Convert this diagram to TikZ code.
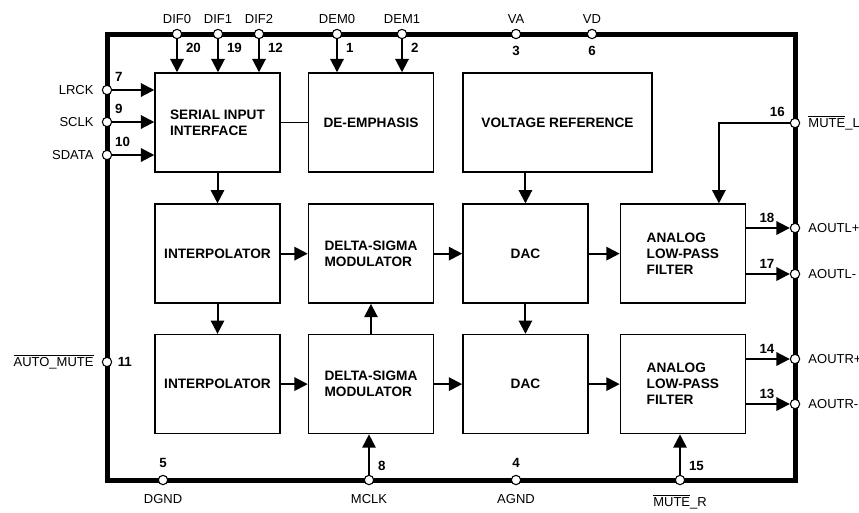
\documentclass[tikz,border=0pt]{standalone}
\usepackage{fontspec}
\setmainfont{Liberation Sans}
\usetikzlibrary{positioning,arrows.meta}
\tikzset{
  blk/.style={rectangle,draw=black,line width=1.1pt,align=left,minimum width=93.75pt,minimum height=74.25pt,inner sep=0pt,font=\bfseries\fontsize{10.25}{12}\selectfont},
  pin/.style={circle,draw=black,fill=white,line width=0.8pt,minimum size=7pt,inner sep=0pt},
  pinlbl/.style={font=\fontsize{9.75}{11.5}\selectfont,inner sep=1pt},
  pinnum/.style={font=\bfseries\fontsize{10}{11.5}\selectfont,inner sep=1pt},
  sig/.style={-{Triangle[length=10pt,width=10pt]},line width=1.5pt},
  wire/.style={line width=1pt},
  frame/.style={line width=3.75pt}
}
\newcommand{\ovl}[1]{$\overline{\mbox{#1}}$}

\begin{document}
\begin{tikzpicture}[x=0.75pt,y=-0.75pt]
  \useasboundingbox (0,0) rectangle (859,512);
  \draw[frame] (107,34) rectangle (795,480);

  % blocks
  \node[blk] at (217.5,122.5) (sii) {SERIAL INPUT\\INTERFACE};
  \node[blk,right=20.25pt of sii] (dem) {DE-EMPHASIS};
  \node[blk,right=21pt of dem,minimum width=141.75pt] (vref) {VOLTAGE REFERENCE};
  \node[blk,below=23pt of sii] (ip1) {INTERPOLATOR};
  \node[blk,below=22.5pt of ip1] (ip2) {INTERPOLATOR};
  \node[blk,below=23pt of dem] (ds1) {DELTA-SIGMA\\MODULATOR};
  \node[blk,below=22.5pt of ds1] (ds2) {DELTA-SIGMA\\MODULATOR};
  \node[blk,right=21pt of ds1] (dac1) {DAC};
  \node[blk,right=21pt of ds2] (dac2) {DAC};
  \node[blk,right=23.25pt of dac1] (flt1) {ANALOG\\LOW-PASS\\FILTER};
  \node[blk,right=23.25pt of dac2] (flt2) {ANALOG\\LOW-PASS\\FILTER};

  % pins, top
  \node[pin,label={[pinlbl,label distance=3pt]above:DIF0},label={[pinnum,label distance=4pt]below right:20}] at (177,34) (dif0) {};
  \node[pin,label={[pinlbl,label distance=3pt]above:DIF1},label={[pinnum,label distance=4pt]below right:19}] at (218,34) (dif1) {};
  \node[pin,label={[pinlbl,label distance=3pt]above:DIF2},label={[pinnum,label distance=4pt]below right:12}] at (259,34) (dif2) {};
  \node[pin,label={[pinlbl,label distance=3pt]above:DEM0},label={[pinnum,label distance=4pt]below right:1}] at (337,34) (dem0) {};
  \node[pin,label={[pinlbl,label distance=3pt]above:DEM1},label={[pinnum,label distance=4pt]below right:2}] at (402,34) (dem1) {};
  \node[pin,label={[pinlbl,label distance=3pt]above:VA},label={[pinnum,label distance=4pt]below:3}] at (516,34) (va) {};
  \node[pin,label={[pinlbl,label distance=3pt]above:VD},label={[pinnum,label distance=4pt]below:6}] at (592,34) (vd) {};

  % pins, left
  \node[pin,label={[pinlbl,label distance=5pt]left:LRCK},label={[pinnum,label distance=3pt]above right:7}] at (107,90) (lrck) {};
  \node[pin,label={[pinlbl,label distance=5pt]left:SCLK},label={[pinnum,label distance=3pt]above right:9}] at (107,122) (sclk) {};
  \node[pin,label={[pinlbl,label distance=5pt]left:SDATA},label={[pinnum,label distance=3pt]above right:10}] at (107,155) (sdata) {};
  \node[pin,label={[pinlbl,label distance=5pt]left:\ovl{AUTO\_MUTE}},label={[pinnum,label distance=3pt]right:11}] at (107,362) (amute) {};

  % pins, right
  \node[pin,label={[pinlbl,label distance=5pt]right:\ovl{MUTE}\_L},label={[pinnum,xshift=-3pt,label distance=1pt]above left:16}] at (795,123) (mutel) {};
  \node[pin,label={[pinlbl,label distance=5pt]right:AOUTL+},label={[pinnum,xshift=-11.5pt,label distance=0pt]above left:18}] at (795,228) (aoutlp) {};
  \node[pin,label={[pinlbl,label distance=5pt]right:AOUTL-},label={[pinnum,xshift=-11.5pt,label distance=0pt]above left:17}] at (795,274) (aoutlm) {};
  \node[pin,label={[pinlbl,label distance=5pt]right:AOUTR+},label={[pinnum,xshift=-11.5pt,label distance=0pt]above left:14}] at (795,359) (aoutrp) {};
  \node[pin,label={[pinlbl,label distance=5pt]right:AOUTR-},label={[pinnum,xshift=-11.5pt,label distance=0pt]above left:13}] at (795,404) (aoutrm) {};

  % pins, bottom
  \node[pin,label={[pinlbl,label distance=6pt]below:DGND},label={[pinnum,label distance=4pt]above:5}] at (163,480) (dgnd) {};
  \node[pin,label={[pinlbl,label distance=6pt]below:MCLK},label={[pinnum,label distance=4pt]above right:8}] at (369,480) (mclk) {};
  \node[pin,label={[pinlbl,label distance=6pt]below:AGND},label={[pinnum,label distance=4pt]above:4}] at (516,480) (agnd) {};
  \node[pin,label={[pinlbl,label distance=6pt]below:\ovl{MUTE}\_R},label={[pinnum,label distance=4pt]above right:15}] at (680,480) (muter) {};

  % inputs
  \foreach \p in {dif0,dif1,dif2}
    \draw[sig] (\p) -- (\p |- sii.north);
  \foreach \p in {dem0,dem1}
    \draw[sig] (\p) -- (\p |- dem.north);
  \foreach \p in {lrck,sclk,sdata}
    \draw[sig] (\p) -- (\p -| sii.west);

  % signal path
  \draw[wire] (sii) -- (dem);
  \draw[sig] (sii) -- (ip1);
  \draw[sig] (ip1) -- (ip2);
  \draw[sig] (ip1) -- (ds1);
  \draw[sig] (ip2) -- (ds2);
  \draw[sig] (ds2) -- (ds1);
  \draw[sig] (ds1) -- (dac1);
  \draw[sig] (ds2) -- (dac2);
  \draw[sig] (dac1 |- vref.south) -- (dac1);
  \draw[sig] (dac1) -- (dac2);
  \draw[sig] (dac1) -- (flt1);
  \draw[sig] (dac2) -- (flt2);

  % outputs
  \draw[sig] (mutel) -| ([xshift=27pt]flt1.north);
  \draw[sig] (flt1.east |- aoutlp) -- (aoutlp);
  \draw[sig] (flt1.east |- aoutlm) -- (aoutlm);
  \draw[sig] (flt2.east |- aoutrp) -- (aoutrp);
  \draw[sig] (flt2.east |- aoutrm) -- (aoutrm);
  \draw[sig] (mclk) -- (mclk |- ds2.south);
  \draw[sig] (muter) -- (muter |- flt2.south);
\end{tikzpicture}
\end{document}
